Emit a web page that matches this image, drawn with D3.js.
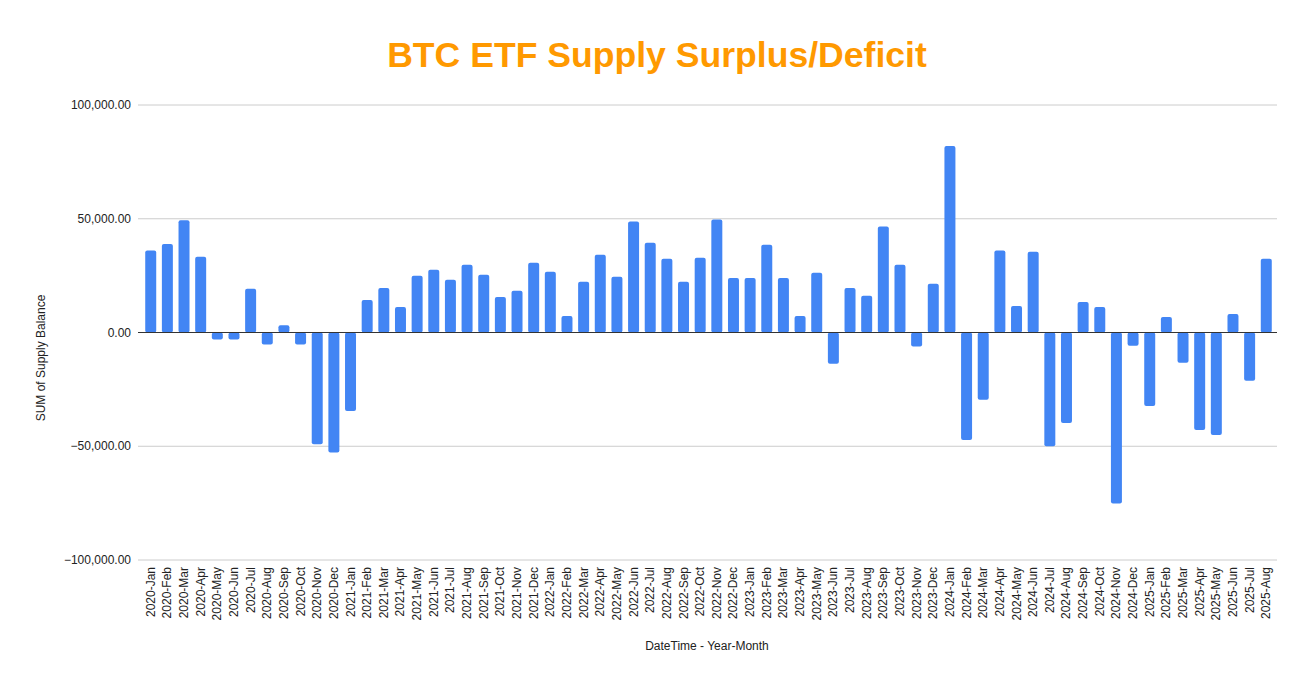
<!DOCTYPE html>
<html>
<head>
<meta charset="utf-8">
<script src="https://cdn.jsdelivr.net/npm/d3@7"></script>
<style>
  body { margin: 0; background: #fff; }
  text { font-family: "Liberation Sans", Arial, sans-serif; }
</style>
</head>
<body>
<div id="graphic"></div>
<script>
// Month labels, 2020-Jan .. 2025-Aug
var years = ['2020', '2021', '2022', '2023', '2024', '2025'];
var monthNames = ['Jan', 'Feb', 'Mar', 'Apr', 'May', 'Jun', 'Jul', 'Aug', 'Sep', 'Oct', 'Nov', 'Dec'];

// Supply balance per month
var supplyBalance = [
    36000, 38900, 49300, 33300, -3100, -3100, 19200, -5300, 3200, -5300, -49100, -52700,
    -34500, 14300, 19600, 11200, 24900, 27600, 23200, 29800, 25400, 15600, 18300, 30700,
    26700, 7200, 22300, 34200, 24500, 48800, 39500, 32400, 22300, 32900, 49700, 24000,
    24000, 38600, 24000, 7200, 26300, -13700, 19600, 16100, 46600, 29800, -6200, 21400,
    82000, -47300, -29600, 36000, 11700, 35500, -50000, -39800, 13400, 11200, -75200, -5800,
    -32300, 6800, -13300, -42900, -45100, 8100, -21200, 32400
];

var yTicks = [-100000, -50000, 0, 50000, 100000];

var monthList = [];
years.forEach(function(y) {
    monthNames.forEach(function(m) {
        if (monthList.length < supplyBalance.length) monthList.push(y + '-' + m);
    });
});

var svgWidth = 1312;
var svgHeight = 687;

var svg = d3.select("#graphic")
    .append("svg")
    .attr("width", svgWidth)
    .attr("height", svgHeight);

var plotLeft = 138, plotRight = 1277;

var x = d3.scaleBand()
    .domain(monthList)
    .range([142.4, 1274.6])
    .paddingInner(0.34)
    .paddingOuter(0.17);

var y = d3.scaleLinear()
    .domain([-100000, 100000])
    .range([560, 105]);

// Title
svg.append("text")
    .attr("x", 657)
    .attr("y", 67)
    .attr("text-anchor", "middle")
    .attr("fill", "#ff9900")
    .style("font-size", "35.6px")
    .style("font-weight", "bold")
    .text("BTC ETF Supply Surplus/Deficit");

// Gridlines
svg.selectAll(".grid")
    .data(yTicks.filter(function(d) { return d !== 0; }))
    .enter()
    .append("line")
    .attr("x1", plotLeft)
    .attr("x2", plotRight)
    .attr("y1", function(d) { return y(d); })
    .attr("y2", function(d) { return y(d); })
    .attr("stroke", "#cccccc")
    .attr("stroke-width", 1);

// Y tick labels
var fmt = d3.format(",.2f");
svg.selectAll(".ylab")
    .data(yTicks)
    .enter()
    .append("text")
    .attr("x", 131)
    .attr("y", function(d) { return y(d); })
    .attr("dy", "0.35em")
    .attr("text-anchor", "end")
    .attr("fill", "#222")
    .style("font-size", "12px")
    .text(function(d) { return fmt(d); });

// Bars
svg.selectAll(".bar")
    .data(supplyBalance)
    .enter()
    .append("rect")
    .attr("x", function(d, i) { return x(monthList[i]); })
    .attr("width", x.bandwidth())
    .attr("y", function(d) { return y(Math.max(0, d)); })
    .attr("height", function(d) { return Math.abs(y(d) - y(0)); })
    .attr("rx", 2)
    .attr("fill", "#4285f4");

// Zero baseline
svg.append("line")
    .attr("x1", plotLeft)
    .attr("x2", plotRight)
    .attr("y1", y(0))
    .attr("y2", y(0))
    .attr("stroke", "#333333")
    .attr("stroke-width", 1);

// X tick labels
svg.selectAll(".xlab")
    .data(monthList)
    .enter()
    .append("text")
    .attr("transform", function(d) {
        return "translate(" + (x(d) + x.bandwidth() / 2 + 4) + ",567) rotate(-90)";
    })
    .attr("text-anchor", "end")
    .attr("fill", "#222")
    .style("font-size", "12px")
    .text(function(d) { return d; });

// Axis titles
svg.append("text")
    .attr("x", 707)
    .attr("y", 650)
    .attr("text-anchor", "middle")
    .attr("fill", "#222")
    .style("font-size", "12px")
    .text("DateTime - Year-Month");

svg.append("text")
    .attr("transform", "translate(45,358) rotate(-90)")
    .attr("text-anchor", "middle")
    .attr("fill", "#222")
    .style("font-size", "12px")
    .text("SUM of Supply Balance");
</script>
</body>
</html>
